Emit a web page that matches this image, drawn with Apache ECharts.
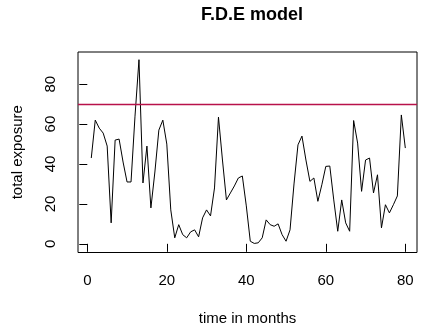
<!DOCTYPE html>
<html>
<head>
<meta charset="utf-8">
<script src="https://cdn.jsdelivr.net/npm/echarts@6/dist/echarts.min.js"></script>
<style>
  html, body { margin: 0; padding: 0; background: #fff; }
  #chart { width: 431px; height: 326px; }
</style>
</head>
<body>
<div id="chart"></div>
<script>
// months 1..80
const months = [
  1, 2, 3, 4, 5, 6, 7, 8, 9, 10, 11, 12, 13, 14, 15, 16, 17, 18, 19, 20,
  21, 22, 23, 24, 25, 26, 27, 28, 29, 30, 31, 32, 33, 34, 35, 36, 37, 38, 39, 40,
  41, 42, 43, 44, 45, 46, 47, 48, 49, 50, 51, 52, 53, 54, 55, 56, 57, 58, 59, 60,
  61, 62, 63, 64, 65, 66, 67, 68, 69, 70, 71, 72, 73, 74, 75, 76, 77, 78, 79, 80
]
// total exposure
const exposure = [
  43, 62, 58, 55.5, 49, 10.5, 52, 52.5, 41, 31, 31, 64, 92.3, 30.5, 49, 18, 36, 57, 62, 50,
  17, 3, 9.6, 4.6, 3, 6, 7, 3.5, 13, 17, 14, 28, 63.5, 42, 22, 25.5, 29, 33, 34, 19,
  1.3, 0.2, 0.5, 3, 12, 9.6, 8.8, 10, 4.6, 1.3, 7, 30, 49.6, 54, 42, 31.3, 33, 21.3, 29.6, 38.8,
  39, 22, 6.3, 22, 10.5, 6.3, 61.8, 50.5, 26.3, 42, 43, 25.5, 34.6, 8, 19.6, 15.5, 19.6, 24, 64.6, 48
]
const xTicks = [0, 20, 40, 60, 80]
const yTicks = [0, 20, 40, 60, 80]
const threshold = 70

const font = 'Liberation Sans, Arial, sans-serif'
let myChart = echarts.init(document.getElementById('chart'))

let seriesData = []
months.forEach((m, index) => {
  seriesData[index] = [m, exposure[index]]
})

var option = {
  animation: false,
  title: {
    text: 'F.D.E model',
    left: 247,
    top: 1,
    textAlign: 'center',
    textStyle: { fontFamily: font, fontSize: 18, fontWeight: 'bold', color: '#000' }
  },
  grid: {
    left: 78, right: 14, top: 52, bottom: 73.5,
    outerBoundsMode: 'none',
    containLabel: false,
    show: true, borderColor: '#000', borderWidth: 1, backgroundColor: 'transparent'
  },
  xAxis: {
    type: 'value',
    min: -2.34,
    max: 82.94,
    name: 'time in months',
    nameLocation: 'middle',
    nameGap: 59,
    nameTextStyle: { fontFamily: font, fontSize: 15, color: '#000' },
    axisLine: { show: false },
    splitLine: { show: false },
    axisTick: { show: true, length: 8, customValues: xTicks, lineStyle: { color: '#000' } },
    axisLabel: { customValues: xTicks, margin: 21, fontFamily: font, fontSize: 15, color: '#000' }
  },
  yAxis: {
    type: 'value',
    min: -4.35,
    max: 96.15,
    name: 'total exposure',
    nameLocation: 'middle',
    nameGap: 53,
    nameTextStyle: { fontFamily: font, fontSize: 15, color: '#000' },
    axisLine: { show: false },
    splitLine: { show: false },
    axisTick: { show: true, length: 8, customValues: yTicks, lineStyle: { color: '#000' } },
    axisLabel: { customValues: yTicks, rotate: 90, margin: 20, fontFamily: font, fontSize: 15, color: '#000' }
  },
  series: [{
    type: 'line',
    data: seriesData,
    showSymbol: false,
    symbol: 'none',
    lineStyle: { color: '#000', width: 1 },
    markLine: {
      silent: true,
      symbol: 'none',
      label: { show: false },
      lineStyle: { color: '#b8124a', width: 1.3, type: 'solid' },
      data: [{ yAxis: threshold }]
    }
  }]
}
myChart.setOption(option)
</script>
</body>
</html>
